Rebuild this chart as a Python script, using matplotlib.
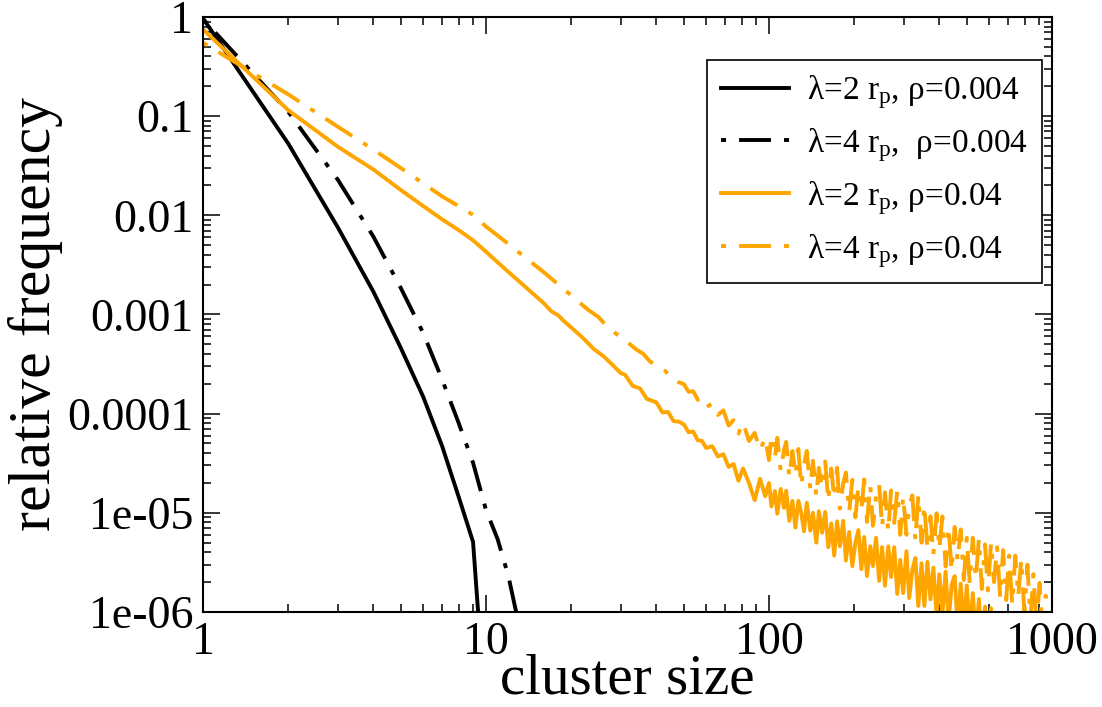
import matplotlib
matplotlib.use('Agg')
import matplotlib.pyplot as plt
from matplotlib.ticker import LogLocator, NullFormatter

plt.rcParams['font.family'] = ['Liberation Serif', 'DejaVu Serif']
plt.rcParams['mathtext.fontset'] = 'custom'
plt.rcParams['mathtext.rm'] = 'Liberation Serif'
plt.rcParams['mathtext.it'] = 'Liberation Serif:italic'

ORANGE = '#ffa500'

# lambda = 2 r_p, rho = 0.004
black_solid_x = [1, 2, 3, 4, 5, 6, 7, 8, 9, 10]
black_solid_y = [0.97, 0.053, 0.0075, 0.0017, 4.6e-4, 1.48e-4, 4.7e-5, 1.46e-5, 5.1e-6, 8e-8]

# lambda = 4 r_p, rho = 0.004
black_dd_x = [1, 2, 3, 4, 5, 6, 7, 8, 9, 10, 11, 12, 13]
black_dd_y = [0.95, 0.111, 0.0227, 0.0061, 1.85e-3, 6.5e-4, 2.2e-4, 8.1e-5, 3.2e-5,
              1.07e-5, 5.4e-6, 2.3e-6, 8e-7]

# shared x positions of the noisy tails (cluster size >= 50)
tail_x = [50, 52, 54, 56, 58, 60, 63, 66, 69, 72, 75, 78, 81, 85, 89, 93, 97,
          100, 102, 105, 107, 110, 113, 115, 118, 121, 124,
          127, 130, 133, 136, 140, 143, 147, 150, 154, 158,
          162, 166, 170, 174, 178, 183, 187, 192, 197, 202,
          207, 212, 217, 222, 228, 233, 239, 245, 251, 257,
          264, 270, 277, 284, 291, 298, 306, 313, 321, 329,
          337, 346, 354, 363, 372, 381, 391, 400, 410, 421,
          431, 442, 453, 464, 476, 488, 500, 512, 525, 538,
          552, 565, 580, 594, 609, 624, 640, 656, 672, 689,
          706, 724, 742, 760, 779, 799, 819, 839, 860, 882,
          904, 926, 950, 973]

# lambda = 2 r_p, rho = 0.04
orange_solid_head_x = [1, 2, 3, 4, 5, 6, 7, 8, 9, 10, 11, 12, 13, 14, 15, 16, 17, 18, 19, 20,
                       22, 24, 26, 28, 30, 31, 33, 35, 37, 40, 42, 44, 46, 48]
orange_solid_head_y = [0.75, 0.115, 0.049, 0.029, 0.018, 0.0124, 0.0091, 0.0071, 0.0056, 0.0043,
                       3.35e-3, 2.69e-3, 2.2e-3, 1.82e-3, 1.53e-3, 1.30e-3, 1.08e-3, 9.8e-4,
                       8.4e-4, 7.4e-4, 5.8e-4, 4.5e-4, 3.8e-4, 3.1e-4, 2.55e-4, 2.47e-4,
                       1.9e-4, 1.8e-4, 1.41e-4, 1.3e-4, 1.03e-4, 1.04e-4, 8.4e-5, 8.3e-5]
orange_solid_tail_y = [7.8e-5, 6.5e-5, 6.6e-5, 5.4e-5, 5.3e-5, 4.5e-5, 4.7e-5, 3.7e-5, 3.9e-5,
                       2.9e-5, 3.1e-5, 2.1e-5, 2.8e-5, 2.0e-5, 1.34e-5, 2.2e-5, 1.47e-5,
                       2.0e-5, 1.16e-5, 1.66e-5, 9.8e-6, 1.74e-5, 1.12e-5, 1.67e-5, 8.3e-6, 1.32e-5, 7.1e-6,
                       1.32e-5, 1.0e-5, 6.5e-6, 1.26e-5, 6.6e-6, 1.0e-5, 5.0e-6, 1.04e-5, 6.3e-6, 1.02e-5,
                       4.5e-6, 7.8e-6, 3.7e-6, 8.2e-6, 4.6e-6, 8.3e-6, 3.3e-6, 6.4e-6, 2.9e-6, 5.0e-6,
                       6.7e-6, 2.7e-6, 5.7e-6, 2.3e-6, 4.6e-6, 2.9e-6, 5.6e-6, 2.06e-6, 4.5e-6, 1.84e-6,
                       4.6e-6, 2.25e-6, 4.5e-6, 1.52e-6, 3.35e-6, 1.55e-6, 4.1e-6, 1.38e-6, 2.65e-6, 3.5e-6,
                       1.15e-6, 3.1e-6, 1.15e-6, 3.2e-6, 1.34e-6, 2.8e-6, 9.2e-7, 2.4e-6, 9.6e-7, 2.55e-6,
                       7.8e-7, 1.88e-6, 2.3e-6, 7.1e-7, 1.93e-6, 6.5e-7, 1.85e-6, 6.0e-7, 1.55e-6, 5.5e-7,
                       1.35e-6, 5e-7, 1.13e-6, 4.5e-7, 1.09e-6, 4.3e-7, 9e-7]

# lambda = 4 r_p, rho = 0.04
orange_dd_head_x = [1, 2, 3, 4, 5, 6, 7, 8, 9, 10, 11, 12, 13, 14, 15, 16, 17, 18, 19, 20,
                    21, 23, 25, 26, 28, 30, 32, 34, 36, 38, 40, 43, 45, 48]
orange_dd_head_y = [0.55, 0.166, 0.078, 0.046, 0.030, 0.021, 0.0155, 0.0124, 0.0101, 0.0077,
                    6.25e-3, 5.13e-3, 4.28e-3, 3.61e-3, 3.09e-3, 2.67e-3, 2.31e-3, 2.01e-3,
                    1.76e-3, 1.56e-3, 1.38e-3, 1.11e-3, 9.4e-4, 8.3e-4, 6.8e-4, 5.9e-4,
                    5.1e-4, 4.43e-4, 4.0e-4, 3.35e-4, 3.1e-4, 2.7e-4, 2.3e-4, 2.07e-4]
orange_dd_tail_y = [1.99e-4, 1.66e-4, 1.68e-4, 1.38e-4, 1.41e-4, 1.16e-4, 1.26e-4, 9.7e-5,
                    1.08e-4, 7.6e-5, 8.6e-5, 6.3e-5, 8.1e-5, 5.3e-5, 6.4e-5, 4.3e-5, 5.7e-5,
                    3.4e-5, 6.0e-5, 3.6e-5, 5.7e-5, 2.65e-5, 4.3e-5, 5.2e-5, 2.3e-5, 4.2e-5, 2.4e-5,
                    4.4e-5, 1.87e-5, 3.05e-5, 4.2e-5, 1.74e-5, 3.35e-5, 1.47e-5, 2.84e-5, 1.8e-5, 3.3e-5,
                    1.32e-5, 2.8e-5, 1.41e-5, 2.85e-5, 1.1e-5, 2.0e-5, 2.55e-5, 1.02e-5, 2.15e-5, 9.0e-6,
                    1.82e-5, 1.06e-5, 2.17e-5, 8.1e-6, 1.89e-5, 7.4e-6, 1.44e-5, 1.93e-5, 7.2e-6, 1.61e-5,
                    6.5e-6, 1.68e-5, 7.9e-6, 1.68e-5, 6.0e-6, 1.47e-5, 6.0e-6, 1.16e-5, 1.5e-5, 5.3e-6,
                    1.51e-5, 5.0e-6, 1.19e-5, 4.3e-6, 9.2e-6, 3.8e-6, 9.9e-6, 4.3e-6, 9.2e-6, 2.87e-6,
                    7.2e-6, 2.6e-6, 7.2e-6, 3.3e-6, 6.8e-6, 2.1e-6, 5.6e-6, 1.95e-6, 5.6e-6, 2.16e-6,
                    5.5e-6, 1.7e-6, 4.8e-6, 1.65e-6, 5.0e-6, 2.0e-6, 4.5e-6, 1.41e-6, 4.2e-6, 1.32e-6,
                    3.7e-6, 1.19e-6, 3.7e-6, 1.44e-6, 3.4e-6, 9.8e-7, 3.0e-6, 8.3e-7, 2.4e-6, 7.0e-7,
                    1.96e-6, 6.0e-7, 1.46e-6, 6.2e-7]

labels = [r'λ=2 r$_\mathrm{p}$, ρ=0.004',
          r'λ=4 r$_\mathrm{p}$,  ρ=0.004',
          r'λ=2 r$_\mathrm{p}$, ρ=0.04',
          r'λ=4 r$_\mathrm{p}$, ρ=0.04']

x_ticks = [1, 10, 100, 1000]
x_ticklabels = ['1', '10', '100', '1000']
y_ticks = [1e-6, 1e-5, 1e-4, 1e-3, 1e-2, 1e-1, 1]
y_ticklabels = ['1e-06', '1e-05', '0.0001', '0.001', '0.01', '0.1', '1']

LW = 2.8
DASHDOT = (0, (1.3, 3.35, 8.2, 3.35))

fig = plt.figure(figsize=(11.02, 7.07), dpi=100)
ax = fig.add_axes([0.1842, 0.1344, 0.7704, 0.8416])

orange_solid_x = orange_solid_head_x + tail_x[:len(orange_solid_tail_y)]
orange_solid_y = orange_solid_head_y + orange_solid_tail_y
orange_dd_x = orange_dd_head_x + tail_x[:len(orange_dd_tail_y)]
orange_dd_y = orange_dd_head_y + orange_dd_tail_y

ax.plot(black_solid_x, black_solid_y, color='black', lw=LW, label=labels[0])
ax.plot(black_dd_x, black_dd_y, color='black', lw=LW, linestyle=DASHDOT, label=labels[1])
ax.plot(orange_solid_x, orange_solid_y, color=ORANGE, lw=LW, label=labels[2])
ax.plot(orange_dd_x, orange_dd_y, color=ORANGE, lw=LW, linestyle=DASHDOT, label=labels[3])

ax.set_xscale('log')
ax.set_yscale('log')
ax.set_xlim(1, 1000)
ax.set_ylim(1e-6, 1)

ax.set_xticks(x_ticks)
ax.set_xticklabels(x_ticklabels)
ax.set_yticks(y_ticks)
ax.set_yticklabels(y_ticklabels)
ax.xaxis.set_minor_locator(LogLocator(base=10, subs=range(2, 10), numticks=20))
ax.yaxis.set_minor_locator(LogLocator(base=10, subs=range(2, 10), numticks=20))
ax.xaxis.set_minor_formatter(NullFormatter())
ax.yaxis.set_minor_formatter(NullFormatter())

ax.tick_params(which='both', direction='in', top=True, right=True, labelsize=33, pad=7)
ax.tick_params(which='major', length=12, width=1.1)
ax.tick_params(which='minor', length=5.8, width=1.1)
for s in ax.spines.values():
    s.set_linewidth(1.5)

ax.set_xlabel('cluster size', fontsize=41, labelpad=-8)
ax.set_ylabel('relative frequency', fontsize=43, labelpad=3)

leg = ax.legend(loc='upper right', bbox_to_anchor=(0.988, 0.928), borderaxespad=0,
                fontsize=24, frameon=True, fancybox=False, framealpha=1,
                edgecolor='black', handlelength=2.05, handletextpad=0.55,
                labelspacing=0.45, borderpad=0.4)
leg.get_frame().set_linewidth(1.2)

fig.savefig('out.png', dpi=100)
